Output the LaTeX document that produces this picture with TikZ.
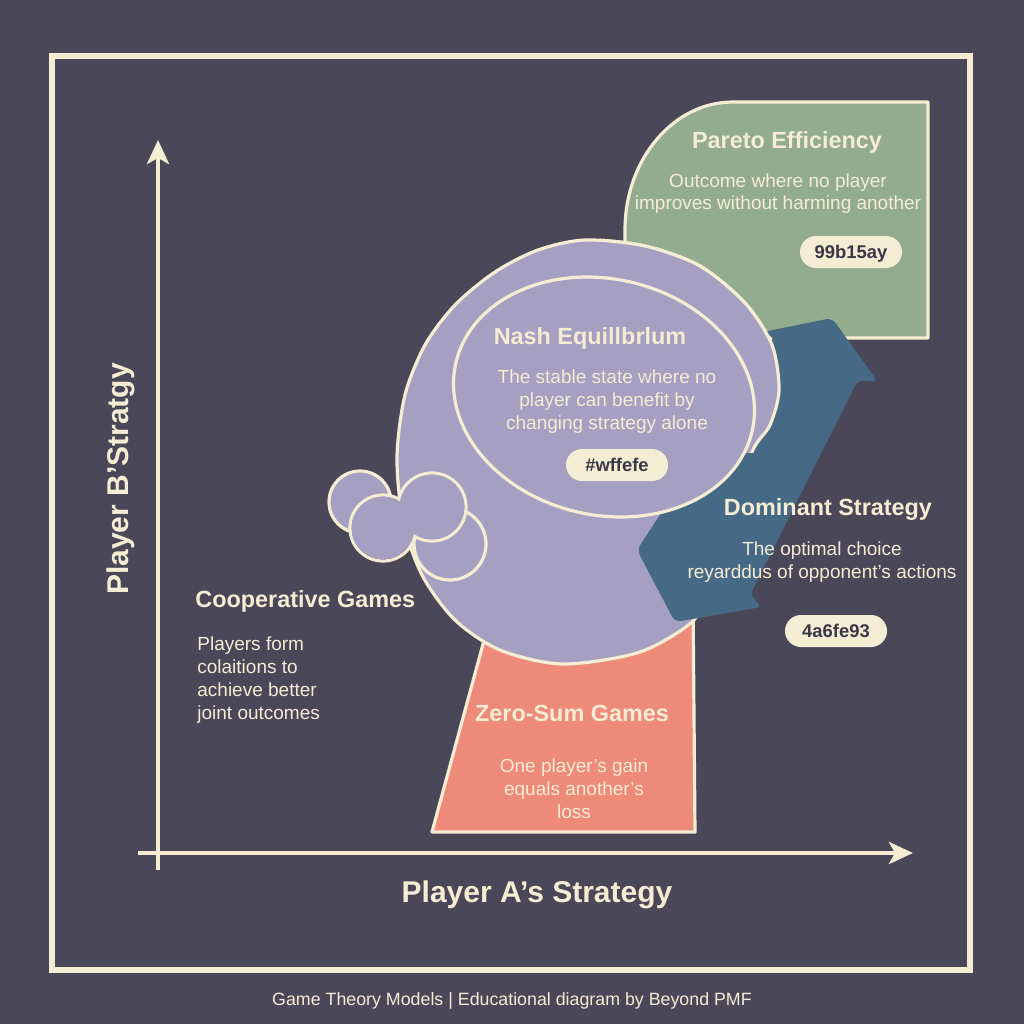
\documentclass[tikz,border=0pt]{standalone}
\usepackage{fontspec}
\setmainfont{Liberation Sans}
\usepackage{xcolor}
\usepackage{tikz}
\usetikzlibrary{arrows.meta}

\definecolor{slate}{HTML}{4A4759}
\definecolor{cream}{HTML}{F4ECD3}
\definecolor{sage}{HTML}{93AC8D}
\definecolor{lilac}{HTML}{A5A0C1}
\definecolor{steel}{HTML}{466A86}
\definecolor{salmon}{HTML}{EE8A79}
\definecolor{ink}{HTML}{3A3846}

\begin{document}
\begin{tikzpicture}[
        x=0.5pt, y=-0.5pt,
        region/.style={fill=#1, draw=cream, line width=1.6pt, line join=round},
        title/.style={text=cream, inner sep=0pt, anchor=base, font=\fontsize{11.7}{14}\selectfont\bfseries},
        body/.style={text=cream, inner sep=0pt, align=center, anchor=north, font=\fontsize{9.5}{11.5}\selectfont},
        tag/.style={fill=cream, text=ink, rounded corners=8pt, minimum width=51pt, minimum height=16pt, inner sep=0pt, text height=6.6pt, text depth=0pt, font=\fontsize{9.2}{11}\selectfont\bfseries},
        axislabel/.style={text=cream, inner sep=0pt, anchor=base, font=\fontsize{15}{18}\selectfont\bfseries},
        axis/.style={draw=cream, line width=2.2pt, -{Stealth[length=12pt, width=11pt, inset=3pt]}}
    ]

    % Background and frame
    \fill[slate] (0,0) rectangle (1024,1024);
    \useasboundingbox (0,0) rectangle (1024,1024);
    \draw[cream, line width=3pt] (52,56) rectangle (970,970);

    % Axes
    \coordinate (ybottom) at (158,870);
    \coordinate (ytop) at (158,140);
    \coordinate (xleft) at (138,853);
    \coordinate (xright) at (913,853);
    \draw[axis] (ybottom) -- (ytop);
    \draw[axis] (xleft) -- (xright);

    % Pareto and zero-sum regions
    \draw[region=sage] (625,338) -- (625,230) arc[start angle=180, end angle=270, x radius=108, y radius=128] -- (928,102) -- (928,338) -- cycle;
    \draw[region=salmon] (495,600) -- (432,832) -- (695,832) -- (693,600) -- cycle;

    % Big blob
    \draw[region=lilac] plot[smooth cycle] coordinates {(585,240) (645,246) (700,266) (745,303) (772,345) (779,390) (770,425) (752,452) (728,525) (705,590) (693,621) (640,652) (563,664) (500,650) (455,620) (422,575) (403,520) (397,457) (405,395) (425,345) (455,305) (495,272) (538,250)};

    % Dominant strategy arrow
    \fill[steel, rounded corners=3pt] (832,318) -- (878,382) -- (858,380) -- (750,595) -- (762,607) -- (675,622) -- (637,550) -- (775,338) -- (763,332) -- cycle;

    % Blob again over the arrow head
    \begin{scope}
        \clip (600,200) rectangle (850,452);
        \draw[region=lilac] plot[smooth cycle] coordinates {(585,240) (645,246) (700,266) (745,303) (772,345) (779,390) (770,425) (752,452) (728,525) (705,590) (693,621) (640,652) (563,664) (500,650) (455,620) (422,575) (403,520) (397,457) (405,395) (425,345) (455,305) (495,272) (538,250)};
    \end{scope}

    % Nash ellipse
    \draw[region=lilac, rotate around={-13:(604,397)}] (604,397) ellipse [x radius=152, y radius=118];

    % Cloud
    \draw[region=lilac] (360,502) circle[radius=31];
    \draw[region=lilac] (450,544) circle[radius=36];
    \draw[cream, line width=1.6pt] (432,507) circle[radius=34] (383,528) circle[radius=33];
    \fill[lilac] (432,507) circle[radius=32.4] (383,528) circle[radius=31.4];

    % Texts
    \node[title] (pareto) at (787,148) {Pareto Efficiency};
    \node[body, font=\fontsize{9.5}{11}\selectfont] (paretotext) at (778,173) {Outcome where no player\\improves without harming another};
    \node[tag] (paretotag) at (851,252) {99b15ay};

    \node[title] (nash) at (590,344) {Nash Equillbrlum};
    \node[body] (nashtext) at (607,369) {The stable state where no\\player can benefit by\\changing strategy alone};
    \node[tag] (nashtag) at (617,465) {\#wffefe};

    \node[title] (dominant) at (828,515) {Dominant Strategy};
    \node[body] (dominanttext) at (822,541) {The optimal choice\\reyarddus of opponent's actions};
    \node[tag] (dominanttag) at (836,631) {4a6fe93};

    \node[title, anchor=base west] (coop) at (195,607) {Cooperative Games};
    \node[body, align=left, anchor=north west] (cooptext) at (197,636) {Players form\\colaitions to\\achieve better\\joint outcomes};

    \node[title] (zerosum) at (572,721) {Zero-Sum Games};
    \node[body] (zerosumtext) at (574,758) {One player's gain\\equals another's\\loss};

    % Axis labels and footer
    \node[axislabel] (xlabel) at (537,902) {Player A's Strategy};
    \node[axislabel, rotate=90] (ylabel) at (128,479) {Player B'Stratgy};
    \node[text=cream, anchor=base, inner sep=0pt, font=\fontsize{8.9}{11}\selectfont] (footer) at (512,1005) {Game Theory Models | Educational diagram by Beyond PMF};

\end{tikzpicture}
\end{document}
